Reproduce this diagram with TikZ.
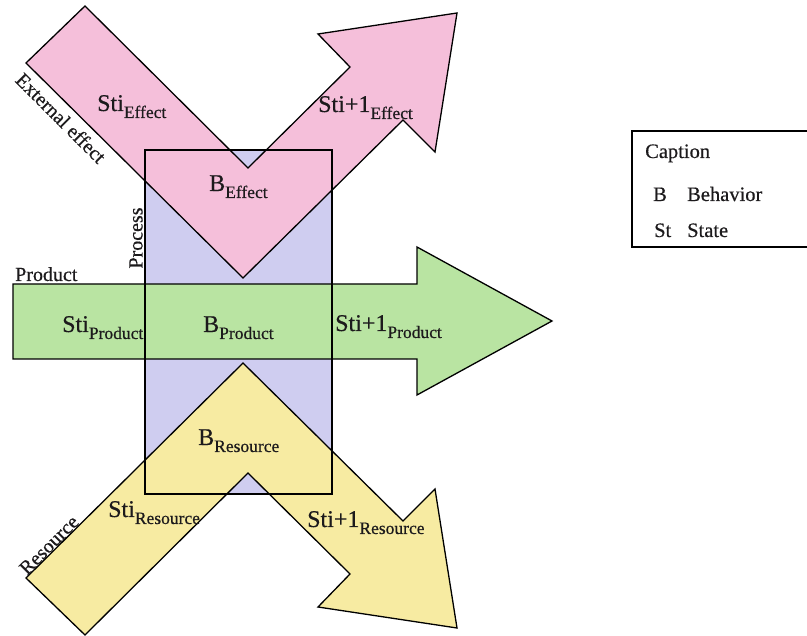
\documentclass[tikz,border=0pt]{standalone}
\usepackage{fontspec}
\setmainfont{Liberation Serif}[FakeBold=0.5]
\newfontfamily\tms{Liberation Serif}[FakeBold=0.5]
\definecolor{pinkfill}{HTML}{F5BFDA}
\definecolor{greenfill}{HTML}{B9E4A2}
\definecolor{lavfill}{HTML}{CFCDF0}
\definecolor{yelfill}{HTML}{F7EBA2}
\definecolor{txt}{HTML}{1C1A1C}
\newcommand\mainsub[2]{{\fontsize{24}{28}\selectfont #1}\raisebox{-7pt}{\fontsize{17.5}{20}\selectfont #2}}
\begin{document}
\begin{tikzpicture}[x=1pt,y=-1pt,
  outline/.style={draw=black, line width=1.3pt, line join=miter},
  lbl/.style={inner sep=0pt, anchor=base west, text=txt, font=\tms},
  side/.style={inner sep=0pt, text=txt, font=\tms\fontsize{20}{24}\selectfont},
  captxt/.style={inner sep=0pt, anchor=base west, text=txt, font=\tms\fontsize{20.5}{24}\selectfont}]
\useasboundingbox (0,0) rectangle (807,636);
% process rectangle fill
\fill[lavfill] (145,150) rectangle (332,494);
% product arrow
\draw[outline, fill=greenfill] (13,284) -- (417,284) -- (417,247) -- (552,321) -- (417,395) -- (417,359) -- (13,359) -- cycle;
% effect arrow
\draw[outline, fill=pinkfill] (85,6) -- (26,63) -- (243,278) -- (403,120) -- (435,152) -- (457,13) -- (318,34) -- (350,67) -- (248,168) -- cycle;
% resource arrow
\draw[outline, fill=yelfill] (85,635) -- (26,578) -- (243,363) -- (403,521) -- (435,489) -- (457,628) -- (318,607) -- (350,574) -- (248,473) -- cycle;
% process rectangle outline
\draw[outline] (145,150) rectangle (332,494);
% labels in arrows
\node[lbl] (stiE) at (97,111) {\mainsub{Sti}{Effect}};
\node[lbl] (stinE) at (318,112) {\mainsub{Sti+1}{Effect}};
\node[lbl] (bE) at (209,191) {\mainsub{B}{Effect}};
\node[lbl] (stiP) at (62,332) {\mainsub{Sti}{Product}};
\node[lbl] (bP) at (203,332) {\mainsub{B}{Product}};
\node[lbl] (stinP) at (335,331) {\mainsub{Sti+1}{Product}};
\node[lbl] (bR) at (198,445) {\mainsub{B}{Resource}};
\node[lbl] (stiR) at (108,517) {\mainsub{Sti}{Resource}};
\node[lbl] (stinR) at (307,527) {\mainsub{Sti+1}{Resource}};
% side labels
\node[side, rotate=-45] (ext) at (61,118) {External effect};
\node[side, rotate=90] (proc) at (136,238) {Process};
\node[side, anchor=base west] (prod) at (15,281) {Product};
\node[side, rotate=45] (res) at (49,545) {Resource};
% caption box
\draw[line width=1.4pt, draw=black] (810,131) -- (632,131) -- (632,247) -- (810,247);
\node[captxt] (capt) at (645,158) {Caption};
\node[captxt] (capB) at (653,201) {B};
\node[captxt] (capBeh) at (687,201) {Behavior};
\node[captxt] (capSt) at (654,237) {St};
\node[captxt] (capState) at (687,237) {State};
\end{tikzpicture}
\end{document}
